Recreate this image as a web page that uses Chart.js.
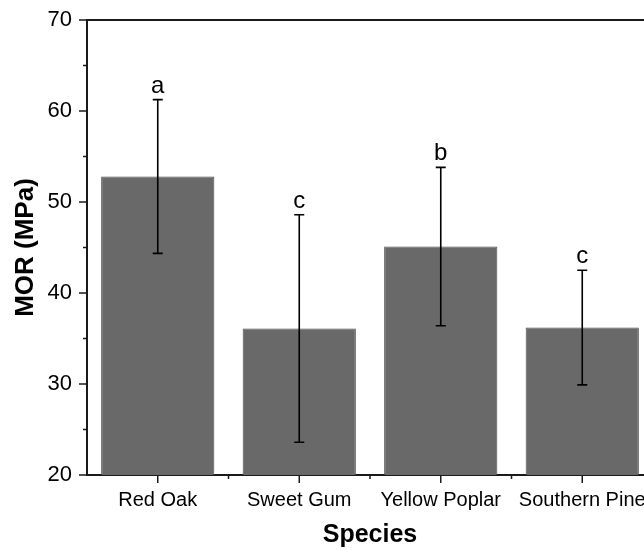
<!DOCTYPE html>
<html>
<head>
<meta charset="utf-8">
<script src="https://cdn.jsdelivr.net/npm/chart.js@4/dist/chart.umd.min.js"></script>
<style>
  html, body { margin: 0; padding: 0; background: #fff; overflow: hidden; }
  #wrap { width: 644px; height: 550px; overflow: hidden; }
</style>
</head>
<body>
<div id="wrap"><canvas id="chart-mor" width="660" height="550"></canvas></div>
<script>
// ── Data ──
const species  = ["Red Oak", "Sweet Gum", "Yellow Poplar", "Southern Pine"];
const morMean  = [52.8, 36.1, 45.1, 36.2];
const morError = [8.45, 12.5, 8.7, 6.3];
const groups   = ["a", "c", "b", "c"];
const yTicks   = [20, 30, 40, 50, 60, 70];
const yMinor   = [25, 35, 45, 55, 65];

const FONT = "'Liberation Sans', Arial, sans-serif";
const AXIS = "#1a1a1a";

// ── Error bars + significance letters ──
const errorBars = {
  id: "errorBars",
  afterDatasetsDraw(chart) {
    const ctx  = chart.ctx;
    const y    = chart.scales.y;
    const meta = chart.getDatasetMeta(0);
    ctx.save();
    ctx.strokeStyle = "#000";
    ctx.lineWidth   = 1.6;
    meta.data.forEach((bar, i) => {
      const top = y.getPixelForValue(morMean[i] + morError[i]);
      const bot = y.getPixelForValue(morMean[i] - morError[i]);
      ctx.beginPath();
      ctx.moveTo(bar.x, top); ctx.lineTo(bar.x, bot);
      ctx.moveTo(bar.x - 5, top); ctx.lineTo(bar.x + 5, top);
      ctx.moveTo(bar.x - 5, bot); ctx.lineTo(bar.x + 5, bot);
      ctx.stroke();

      ctx.fillStyle    = "#000";
      ctx.font         = `24px ${FONT}`;
      ctx.textAlign    = "center";
      ctx.textBaseline = "alphabetic";
      ctx.fillText(groups[i], bar.x, top - 7);
    });
    ctx.restore();
  },
};

// ── Frame and tick marks (Origin style, outward) ──
const axisFrame = {
  id: "axisFrame",
  afterDraw(chart) {
    const ctx  = chart.ctx;
    const area = chart.chartArea;
    const x    = chart.scales.x;
    const y    = chart.scales.y;
    ctx.save();
    ctx.strokeStyle = AXIS;
    ctx.lineWidth   = 2;
    ctx.beginPath();
    ctx.moveTo(area.left, area.top);
    ctx.lineTo(area.right + 10, area.top);
    ctx.stroke();

    ctx.lineWidth = 1.5;
    ctx.beginPath();
    species.forEach((s, i) => {
      const px = x.getPixelForValue(i);
      ctx.moveTo(px, area.bottom); ctx.lineTo(px, area.bottom + 8);
      if (i > 0) {
        const mid = (px + x.getPixelForValue(i - 1)) / 2;
        ctx.moveTo(mid, area.bottom); ctx.lineTo(mid, area.bottom + 4);
      }
    });
    yTicks.forEach(v => {
      const py = y.getPixelForValue(v);
      ctx.moveTo(area.left, py); ctx.lineTo(area.left - 8, py);
    });
    yMinor.forEach(v => {
      const py = y.getPixelForValue(v);
      ctx.moveTo(area.left, py); ctx.lineTo(area.left - 4, py);
    });
    ctx.stroke();
    ctx.restore();
  },
};

new Chart(document.getElementById("chart-mor"), {
  type: "bar",
  data: {
    labels: species,
    datasets: [{
      data: morMean,
      backgroundColor: "#696969",
      borderColor: "#4d4d4d",
      borderWidth: 1,
      barPercentage: 0.8,
      categoryPercentage: 1.0,
    }],
  },
  options: {
    responsive: false,
    animation: false,
    devicePixelRatio: 1,
    layout: { padding: { top: 20, right: 7, left: 0, bottom: 0 } },
    plugins: { legend: { display: false }, tooltip: { enabled: false } },
    scales: {
      x: {
        offset: true,
        grid: { display: false, drawTicks: false },
        border: { display: true, color: AXIS, width: 2 },
        ticks: {
          font: { family: FONT, size: 20 },
          color: "#000",
          padding: 13,
          maxRotation: 0,
          autoSkip: false,
        },
        title: {
          display: true,
          text: "Species",
          font: { family: FONT, size: 25, weight: "bold" },
          color: "#000",
          padding: { top: 0, bottom: 0 },
        },
        afterFit(scale) {
          scale.height = 75;
          scale.paddingLeft = 0;
          scale.paddingRight = 0;
        },
      },
      y: {
        min: 20,
        max: 70,
        grid: { display: false, drawTicks: false },
        border: { display: true, color: AXIS, width: 2 },
        afterBuildTicks(scale) { scale.ticks = yTicks.map(v => ({ value: v })); },
        ticks: {
          font: { family: FONT, size: 22 },
          color: "#000",
          padding: 15,
        },
        title: {
          display: true,
          text: "MOR (MPa)",
          font: { family: FONT, size: 26, weight: "bold" },
          color: "#000",
          padding: { top: 10, bottom: 0 },
        },
        afterFit(scale) {
          scale.width = 87;
          scale.paddingTop = 0;
          scale.paddingBottom = 0;
        },
      },
    },
  },
  plugins: [errorBars, axisFrame],
});
</script>
</body>
</html>
